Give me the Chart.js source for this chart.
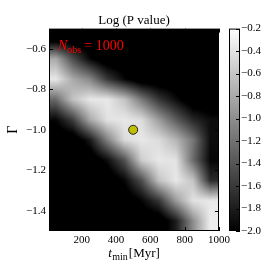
<!DOCTYPE html>
<html>
<head>
<meta charset="utf-8">
<script src="https://cdn.jsdelivr.net/npm/chart.js@4.4.0/dist/chart.umd.min.js"></script>
<style>
  html, body { margin: 0; padding: 0; background: #fff; }
</style>
</head>
<body>
<canvas id="chart" width="274" height="274"></canvas>
<script>
// Log(P value) map over (t_min, Gamma); values are cell centres
const tMin = [50, 150, 250, 350, 450, 550, 650, 750, 850, 950];
const gammas = [-0.55, -0.65, -0.75, -0.85, -0.95, -1.05, -1.15, -1.25, -1.35, -1.45];
const logP = [
    [-2.2, -2.2, -2.2, -2.2, -2.2, -2.2, -2.2, -2.2, -2.2, -2.2],
    [-0.80, -1.46, -1.95, -2.2, -2.2, -2.2, -2.2, -2.2, -2.2, -2.2],
    [-0.36, -0.80, -1.05, -1.60, -1.95, -2.2, -2.2, -2.2, -2.2, -2.2],
    [-1.25, -0.62, -0.36, -0.36, -0.62, -1.15, -1.62, -1.91, -2.2, -2.2],
    [-1.96, -1.55, -0.80, -0.40, -0.36, -0.45, -0.90, -1.35, -1.73, -1.91],
    [-2.2, -2.2, -1.82, -1.08, -0.45, -0.36, -0.45, -0.72, -1.17, -1.91],
    [-2.2, -2.2, -2.2, -1.91, -1.42, -0.54, -0.36, -0.40, -1.25, -1.96],
    [-2.2, -2.2, -2.2, -2.2, -1.95, -1.44, -0.62, -0.36, -0.62, -1.70],
    [-2.2, -2.2, -2.2, -2.2, -2.2, -1.96, -1.62, -0.90, -0.40, -0.36],
    [-2.2, -2.2, -2.2, -2.2, -2.2, -2.2, -2.2, -1.80, -1.00, -0.32]
];
const bestFit = [{ x: 500, y: -1.0 }];

const xTicks = [200, 400, 600, 800, 1000];
const yTicks = [-1.4, -1.2, -1.0, -0.8, -0.6];
const cbTicks = [-2.0, -1.8, -1.6, -1.4, -1.2, -1.0, -0.8, -0.6, -0.4, -0.2];
const cbMin = -2.0, cbMax = -0.2;

const SERIF = '"Liberation Serif", "Times New Roman", serif';
const minus = v => v.toFixed(1).replace('-', '\u2212');

// bilinear lookup between cell centres, clamped at the outer cells
function gridPos(arr, v) {
    const p = (v - arr[0]) / (arr[1] - arr[0]);
    return Math.min(Math.max(p, 0), arr.length - 1);
}
function sampleLogP(t, g) {
    const px = gridPos(tMin, t), py = gridPos(gammas, g);
    const i0 = Math.floor(px), j0 = Math.floor(py);
    const i1 = Math.min(i0 + 1, tMin.length - 1), j1 = Math.min(j0 + 1, gammas.length - 1);
    const fx = px - i0, fy = py - j0;
    const top = logP[j0][i0] * (1 - fx) + logP[j0][i1] * fx;
    const bot = logP[j1][i0] * (1 - fx) + logP[j1][i1] * fx;
    return top * (1 - fy) + bot * fy;
}
function grayOf(v) {
    const f = Math.min(Math.max((v - cbMin) / (cbMax - cbMin), 0), 1);
    return Math.round(f * 255);
}

// draws pieces of text with sub/superscript offsets, starting at x
function drawPieces(ctx, pieces, x, baseline, color) {
    ctx.save();
    ctx.fillStyle = color;
    ctx.textBaseline = 'alphabetic';
    ctx.textAlign = 'left';
    pieces.forEach(p => {
        ctx.font = p.font;
        ctx.fillText(p.text, x, baseline + (p.dy || 0));
        x += ctx.measureText(p.text).width + (p.gap || 0);
    });
    ctx.restore();
}
function piecesWidth(ctx, pieces) {
    let w = 0;
    ctx.save();
    pieces.forEach(p => { ctx.font = p.font; w += ctx.measureText(p.text).width + (p.gap || 0); });
    ctx.restore();
    return w;
}

const mapPlugin = {
    id: 'logpMap',
    beforeDatasetsDraw(chart) {
        const { ctx, chartArea: a, scales: { x, y } } = chart;
        const w = Math.round(a.right - a.left), h = Math.round(a.bottom - a.top);
        const off = document.createElement('canvas');
        off.width = w; off.height = h;
        const octx = off.getContext('2d');
        const img = octx.createImageData(w, h);
        for (let j = 0; j < h; j++) {
            const g = y.getValueForPixel(a.top + j + 0.5);
            for (let i = 0; i < w; i++) {
                const t = x.getValueForPixel(a.left + i + 0.5);
                const c = grayOf(sampleLogP(t, g));
                const k = (j * w + i) * 4;
                img.data[k] = img.data[k + 1] = img.data[k + 2] = c;
                img.data[k + 3] = 255;
            }
        }
        octx.putImageData(img, 0, 0);
        ctx.drawImage(off, a.left, a.top);
    },
    afterDatasetsDraw(chart) {
        const { ctx, chartArea: a, scales: { x, y, cb } } = chart;
        ctx.save();
        ctx.strokeStyle = '#000';
        ctx.lineWidth = 1;
        // frame
        ctx.strokeRect(a.left + 0.5, a.top + 0.5, a.right - a.left - 1, a.bottom - a.top - 1);
        // inward ticks on all four sides
        ctx.beginPath();
        xTicks.forEach(v => {
            const px = Math.round(x.getPixelForValue(v)) + 0.5;
            ctx.moveTo(px, a.bottom); ctx.lineTo(px, a.bottom - 4);
            ctx.moveTo(px, a.top); ctx.lineTo(px, a.top + 4);
        });
        yTicks.forEach(v => {
            const py = Math.round(y.getPixelForValue(v)) + 0.5;
            ctx.moveTo(a.left, py); ctx.lineTo(a.left + 4, py);
            ctx.moveTo(a.right, py); ctx.lineTo(a.right - 4, py);
        });
        ctx.stroke();

        // colorbar
        const x0 = cb.left + 10, bw = 11;
        const yLo = cb.getPixelForValue(cbMin), yHi = cb.getPixelForValue(cbMax);
        const grad = ctx.createLinearGradient(0, yLo, 0, yHi);
        grad.addColorStop(0, '#000');
        grad.addColorStop(1, '#fff');
        ctx.fillStyle = grad;
        ctx.fillRect(x0, yHi, bw, yLo - yHi);
        ctx.strokeStyle = '#000';
        ctx.strokeRect(x0 + 0.5, yHi + 0.5, bw - 1, yLo - yHi - 1);
        ctx.beginPath();
        cbTicks.forEach(v => {
            const py = Math.round(cb.getPixelForValue(v)) + 0.5;
            ctx.moveTo(x0 + bw, py); ctx.lineTo(x0 + bw - 4, py);
        });
        ctx.stroke();
        ctx.restore();

        // N_obs annotation
        drawPieces(ctx, [
            { text: 'N', font: 'italic 14px ' + SERIF },
            { text: 'obs', font: '10px ' + SERIF, dy: 3, gap: 3 },
            { text: '= 1000', font: '14px ' + SERIF }
        ], a.left + 9, a.top + 21, '#ff0000');

        // x axis title t_min [Myr]
        const xl = [
            { text: 't', font: 'italic 13px ' + SERIF, gap: 0.5 },
            { text: 'min', font: '10px ' + SERIF, dy: 3, gap: 1 },
            { text: '[Myr]', font: '13px ' + SERIF }
        ];
        const wl = piecesWidth(ctx, xl);
        drawPieces(ctx, xl, (a.left + a.right) / 2 - wl / 2, 257, '#000');
    }
};

const tickFont = { family: SERIF, size: 11 };

new Chart(document.getElementById('chart'), {
    type: 'scatter',
    data: {
        datasets: [{
            data: bestFit,
            pointRadius: 4.5,
            pointHoverRadius: 4.5,
            backgroundColor: '#bfbf00',
            borderColor: '#222',
            borderWidth: 1
        }]
    },
    options: {
        responsive: false,
        animation: false,
        devicePixelRatio: 1,
        layout: { padding: 0 },
        plugins: {
            legend: { display: false },
            tooltip: { enabled: false },
            title: {
                display: true,
                text: 'Log (P value)',
                fullSize: false,
                color: '#000',
                font: { family: SERIF, size: 13, weight: 'normal', lineHeight: '16px' },
                padding: { top: 7, bottom: 0 }
            }
        },
        scales: {
            x: {
                type: 'linear',
                position: 'bottom',
                min: 10,
                max: 1000,
                afterBuildTicks: s => { s.ticks = xTicks.map(v => ({ value: v })); },
                afterFit: s => { s.height = 43; },
                grid: { display: false, drawTicks: false },
                border: { display: false },
                ticks: {
                    autoSkip: false, maxRotation: 0, padding: 3,
                    color: '#000', font: tickFont,
                    callback: v => String(v)
                }
            },
            y: {
                type: 'linear',
                position: 'left',
                min: -1.5,
                max: -0.5,
                afterBuildTicks: s => { s.ticks = yTicks.map(v => ({ value: v })); },
                afterFit: s => { s.width = 49; },
                grid: { display: false, drawTicks: false },
                border: { display: false },
                title: {
                    display: true,
                    text: '\u0393',
                    color: '#000',
                    font: { family: SERIF, size: 14 },
                    padding: { top: 5, bottom: 0 }
                },
                ticks: {
                    autoSkip: false, padding: 3,
                    color: '#000', font: tickFont,
                    callback: v => minus(v)
                }
            },
            cb: {
                type: 'linear',
                position: 'right',
                min: cbMin,
                max: cbMax,
                afterBuildTicks: s => { s.ticks = cbTicks.map(v => ({ value: v })); },
                afterFit: s => { s.width = 55; },
                grid: { display: false, drawTicks: false },
                border: { display: false },
                ticks: {
                    autoSkip: false, padding: 22,
                    color: '#000', font: tickFont,
                    callback: v => minus(v)
                }
            }
        }
    },
    plugins: [mapPlugin]
});
</script>
</body>
</html>
